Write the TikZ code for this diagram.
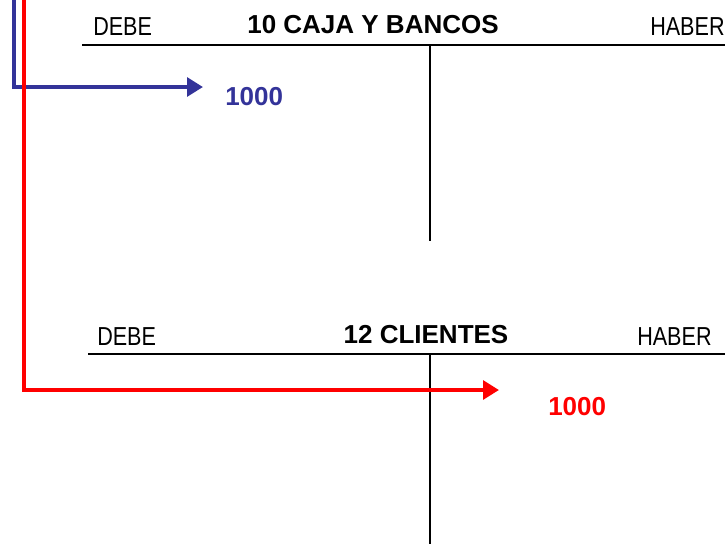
\documentclass[tikz,border=0pt]{standalone}
\usepackage{fontspec}
\setmainfont{Liberation Sans}
\usetikzlibrary{arrows.meta}
\definecolor{azulcta}{RGB}{51,51,153}
\definecolor{rojocta}{RGB}{255,0,0}
\newcommand{\angosto}[1]{\scalebox{0.83}[1]{#1}}
\tikzset{
  cuenta/.style={line width=1.5pt},
  rotulo/.style={inner sep=0pt, anchor=base west, font=\fontsize{19.5}{23}\selectfont},
  titulo/.style={inner sep=0pt, anchor=base, font=\fontsize{19.5}{23}\selectfont\bfseries},
  flecha/.style={line width=3.5pt, -{Triangle[length=12pt,width=14pt]}},
}
\begin{document}
\begin{tikzpicture}[x=0.75pt,y=0.75pt,yscale=-1,xscale=1]
\clip (0,0) rectangle (725,544);
% Cuenta 10
\draw[cuenta] (82,44.5) -- (725,44.5);
\draw[cuenta] (430,44.5) -- (430,241);
\node[rotulo] (debe10) at (93,35) {\angosto{DEBE}};
\node[titulo] (caja) at (373,33.5) {10 CAJA Y BANCOS};
\node[rotulo] (haber10) at (650,35) {\angosto{HABER}};
% Cuenta 12
\draw[cuenta] (88,353.5) -- (725,353.5);
\draw[cuenta] (430,353.5) -- (430,544);
\node[rotulo] (debe12) at (97,345) {\angosto{DEBE}};
\node[titulo] (clientes) at (426,343) {12 CLIENTES};
\node[rotulo] (haber12) at (637,345) {\angosto{HABER}};
% Importes
\node[titulo, text=azulcta, anchor=base west] (cargo10) at (225,105) {1000};
\node[titulo, text=rojocta, anchor=base west] (abono12) at (548,415) {1000};
% Flechas
\coordinate (inicioAzul) at (14,0);
\coordinate (puntaAzul) at (203,87);
\coordinate (inicioRojo) at (24,0);
\coordinate (puntaRojo) at (499,390);
\draw[flecha, azulcta] (inicioAzul) |- (puntaAzul);
\draw[flecha, rojocta] (inicioRojo) |- (puntaRojo);
\end{tikzpicture}
\end{document}
